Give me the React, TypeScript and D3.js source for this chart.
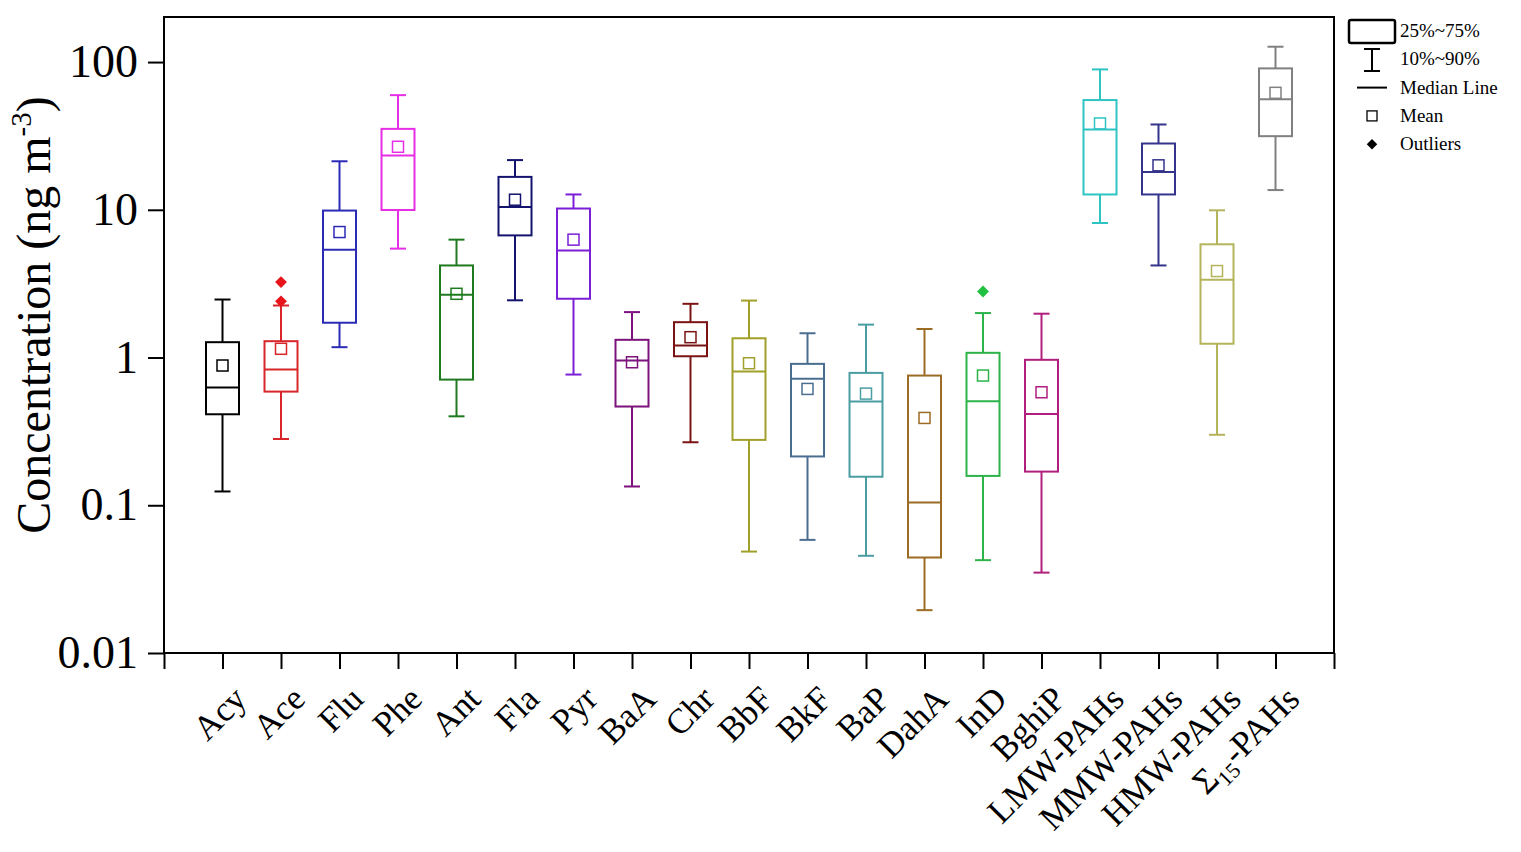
import * as React from "react";
import * as d3 from "d3";

const categories = ["Acy", "Ace", "Flu", "Phe", "Ant", "Fla", "Pyr", "BaA", "Chr", "BbF", "BkF", "BaP", "DahA", "InD", "BghiP", "LMW-PAHs", "MMW-PAHs", "HMW-PAHs", "Σ15-PAHs"];
const p90 = [2.47, 2.25, 21.3, 59.7, 6.28, 21.7, 12.7, 2.03, 2.31, 2.43, 1.46, 1.67, 1.56, 2.0, 1.98, 89.2, 37.8, 9.92, 127];
const q3 = [1.27, 1.29, 9.88, 35.3, 4.2, 16.7, 10.2, 1.318, 1.735, 1.35, 0.906, 0.787, 0.755, 1.076, 0.965, 55.3, 28.1, 5.84, 90.6];
const median = [0.626, 0.83, 5.37, 23.3, 2.66, 10.45, 5.31, 0.954, 1.206, 0.804, 0.717, 0.503, 0.1045, 0.506, 0.415, 35.0, 18.0, 3.36, 56.1];
const q1 = [0.413, 0.588, 1.72, 9.97, 0.709, 6.71, 2.5, 0.466, 1.02, 0.277, 0.214, 0.156, 0.0443, 0.158, 0.169, 12.7, 12.7, 1.24, 31.5];
const p10 = [0.124, 0.281, 1.175, 5.46, 0.4, 2.44, 0.767, 0.134, 0.267, 0.0486, 0.0583, 0.0455, 0.0195, 0.0425, 0.035, 8.14, 4.2, 0.3, 13.6];
const mean = [0.883, 1.146, 7.07, 26.7, 2.7, 11.7, 6.28, 0.929, 1.373, 0.915, 0.613, 0.57, 0.39, 0.755, 0.582, 38.4, 20.0, 3.85, 61.9];
const outliers = [
  { cat: "Ace", value: 3.24 },
  { cat: "Ace", value: 2.4 },
  { cat: "InD", value: 2.8 },
];
const colors = ["#000000", "#d8262b", "#2b2bb5", "#e62ee6", "#1f7a1f", "#14146e", "#7b1fd6", "#7d127d", "#7a1414", "#a0a02a", "#4a6e90", "#4a9ea3", "#9c6b24", "#2db34a", "#b01f7d", "#2ec4c4", "#34348c", "#b4b45a", "#808080"];
const outlierColors = { Ace: "#e8141c", InD: "#22c040" };
const yTicks = [0.01, 0.1, 1, 10, 100];
const legendLabels = ["25%~75%", "10%~90%", "Median Line", "Mean", "Outliers"];

const FONT = "'Liberation Serif', 'Times New Roman', serif";

const BoxChart = () => {
  const svgRef = React.useRef(null);

  React.useEffect(() => {
    const width = 1521;
    const height = 852;
    const plot = { left: 164, right: 1334, top: 17, bottom: 653 };

    const svg = d3.select(svgRef.current);
    svg.selectAll("*").remove();

    const x = d3.scaleLinear().domain([0, categories.length + 1]).range([plot.left, plot.right]);
    const y = d3.scaleLog().domain([0.01, Math.pow(10, 2.305)]).range([plot.bottom, plot.top]);
    const xPos = (c) => x(categories.indexOf(c) + 1);

    // frame
    svg
      .append("rect")
      .attr("x", plot.left)
      .attr("y", plot.top)
      .attr("width", plot.right - plot.left)
      .attr("height", plot.bottom - plot.top)
      .attr("fill", "none")
      .attr("stroke", "#000")
      .attr("stroke-width", 2);

    // y axis
    const yAxis = svg
      .append("g")
      .attr("transform", `translate(${plot.left},0)`)
      .call(
        d3
          .axisLeft(y)
          .tickValues(yTicks)
          .tickSize(16)
          .tickPadding(10)
          .tickFormat((d) => String(d))
      );
    yAxis.select(".domain").remove();
    yAxis.selectAll("line").attr("stroke-width", 2);
    yAxis
      .selectAll("text")
      .attr("font-family", FONT)
      .attr("font-size", 46)
      .attr("fill", "#000");

    // x axis (ticks only)
    const xAxis = svg
      .append("g")
      .attr("transform", `translate(0,${plot.bottom})`)
      .call(
        d3
          .axisBottom(x)
          .tickValues(d3.range(0, categories.length + 2))
          .tickSize(16)
          .tickFormat(() => "")
      );
    xAxis.select(".domain").remove();
    xAxis.selectAll("line").attr("stroke-width", 2);

    // x labels
    const labels = svg
      .append("g")
      .selectAll("text")
      .data(categories)
      .enter()
      .append("text")
      .attr("transform", (d) => `translate(${xPos(d) + 26},${plot.bottom + 48}) rotate(-45)`)
      .attr("text-anchor", "end")
      .attr("font-family", FONT)
      .attr("font-size", 35)
      .attr("fill", "#000");
    labels.each(function (d) {
      const t = d3.select(this);
      if (d.startsWith("Σ15")) {
        t.append("tspan").text("Σ");
        t.append("tspan").attr("font-size", 22).attr("dy", 8).text("15");
        t.append("tspan").attr("dy", -8).text("-PAHs");
      } else {
        t.text(d);
      }
    });

    // y label
    const yl = svg
      .append("text")
      .attr("transform", `translate(50,315) rotate(-90)`)
      .attr("text-anchor", "middle")
      .attr("font-family", FONT)
      .attr("font-size", 48)
      .attr("fill", "#000");
    yl.append("tspan").text("Concentration (ng m");
    yl.append("tspan").attr("font-size", 29).attr("dy", -19).text("-3");
    yl.append("tspan").attr("dy", 19).text(")");

    // boxes
    const boxW = 33;
    const capW = 16;
    const meanS = 11;
    const groups = svg
      .append("g")
      .selectAll("g")
      .data(categories)
      .enter()
      .append("g")
      .attr("stroke", (d, i) => colors[i])
      .attr("fill", "none")
      .attr("stroke-width", 2);

    groups
      .append("line")
      .attr("x1", (d) => xPos(d))
      .attr("x2", (d) => xPos(d))
      .attr("y1", (d, i) => y(p90[i]))
      .attr("y2", (d, i) => y(q3[i]));
    groups
      .append("line")
      .attr("x1", (d) => xPos(d))
      .attr("x2", (d) => xPos(d))
      .attr("y1", (d, i) => y(q1[i]))
      .attr("y2", (d, i) => y(p10[i]));
    groups
      .append("line")
      .attr("x1", (d) => xPos(d) - capW / 2)
      .attr("x2", (d) => xPos(d) + capW / 2)
      .attr("y1", (d, i) => y(p90[i]))
      .attr("y2", (d, i) => y(p90[i]));
    groups
      .append("line")
      .attr("x1", (d) => xPos(d) - capW / 2)
      .attr("x2", (d) => xPos(d) + capW / 2)
      .attr("y1", (d, i) => y(p10[i]))
      .attr("y2", (d, i) => y(p10[i]));
    groups
      .append("rect")
      .attr("x", (d) => xPos(d) - boxW / 2)
      .attr("y", (d, i) => y(q3[i]))
      .attr("width", boxW)
      .attr("height", (d, i) => y(q1[i]) - y(q3[i]))
      .attr("fill", "#fff");
    groups
      .append("line")
      .attr("x1", (d) => xPos(d) - boxW / 2)
      .attr("x2", (d) => xPos(d) + boxW / 2)
      .attr("y1", (d, i) => y(median[i]))
      .attr("y2", (d, i) => y(median[i]));
    groups
      .append("rect")
      .attr("x", (d) => xPos(d) - meanS / 2)
      .attr("y", (d, i) => y(mean[i]) - meanS / 2)
      .attr("width", meanS)
      .attr("height", meanS)
      .attr("stroke-width", 1.5);

    // outliers
    const diamond = d3.symbol().type(d3.symbolDiamond2).size(90);
    svg
      .append("g")
      .selectAll("path")
      .data(outliers)
      .enter()
      .append("path")
      .attr("d", diamond)
      .attr("transform", (d) => `translate(${xPos(d.cat)},${y(d.value)})`)
      .attr("fill", (d) => outlierColors[d.cat]);

    // legend
    const lg = svg.append("g").attr("stroke", "#000").attr("fill", "none");
    const lx = 1372;
    const rowY = (i) => 31 + i * 28.3;
    lg.append("rect")
      .attr("x", 1349)
      .attr("y", 20)
      .attr("width", 46)
      .attr("height", 23)
      .attr("rx", 2)
      .attr("stroke-width", 2.5);
    lg.append("line").attr("x1", lx).attr("x2", lx).attr("y1", 49).attr("y2", 71).attr("stroke-width", 2);
    lg.append("line").attr("x1", lx - 8).attr("x2", lx + 8).attr("y1", 49).attr("y2", 49).attr("stroke-width", 2);
    lg.append("line").attr("x1", lx - 8).attr("x2", lx + 8).attr("y1", 71).attr("y2", 71).attr("stroke-width", 2);
    lg.append("line").attr("x1", 1357).attr("x2", 1387).attr("y1", rowY(2)).attr("y2", rowY(2)).attr("stroke-width", 2);
    lg.append("rect")
      .attr("x", lx - 5)
      .attr("y", rowY(3) - 5)
      .attr("width", 10)
      .attr("height", 10)
      .attr("stroke-width", 1.3);
    svg
      .append("path")
      .attr("d", d3.symbol().type(d3.symbolDiamond2).size(70))
      .attr("transform", `translate(${lx},${rowY(4)})`)
      .attr("fill", "#000");

    svg
      .append("g")
      .selectAll("text")
      .data(legendLabels)
      .enter()
      .append("text")
      .attr("x", 1400)
      .attr("y", (d, i) => rowY(i) + 6)
      .attr("font-family", FONT)
      .attr("font-size", 19)
      .attr("fill", "#000")
      .text((d) => d);

    svg.attr("width", width).attr("height", height);
  }, []);

  return (
    <svg
      ref={svgRef}
      style={{ position: "absolute", left: 0, top: 0, display: "block", background: "#fff" }}
    />
  );
};

export default function App() {
  return <BoxChart />;
}
